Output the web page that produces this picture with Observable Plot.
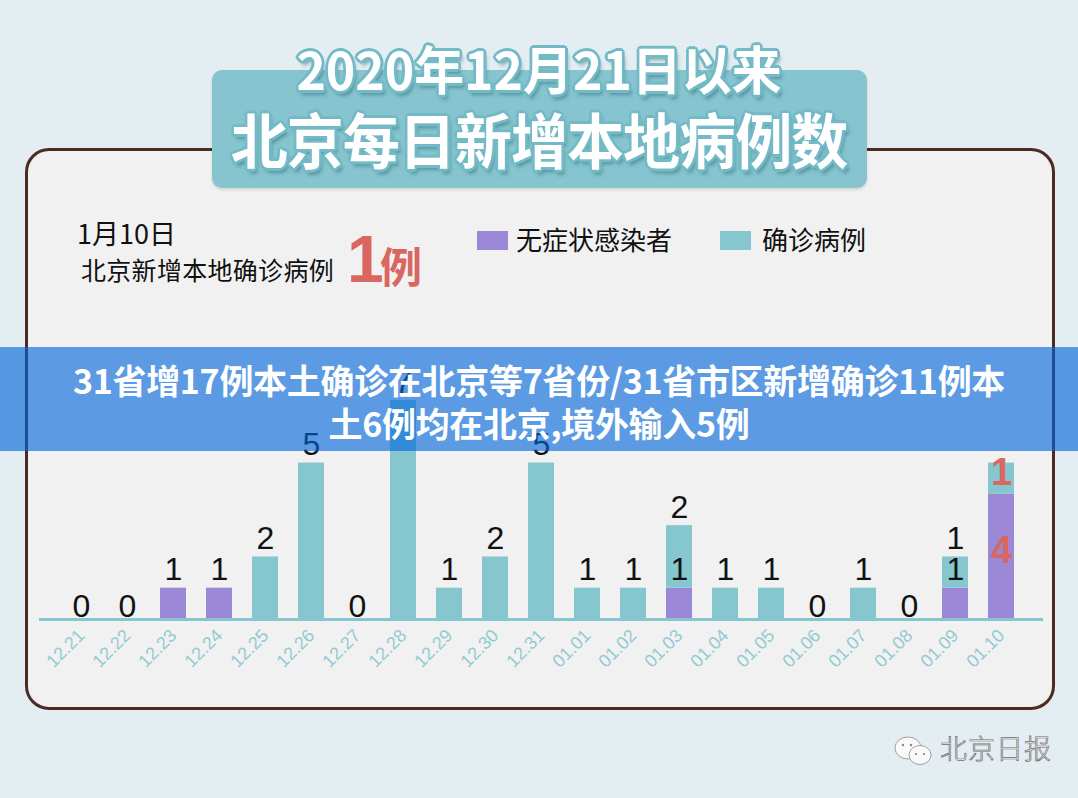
<!DOCTYPE html>
<html><head><meta charset="utf-8">
<script src="https://cdn.jsdelivr.net/npm/d3@7"></script>
<script src="https://cdn.jsdelivr.net/npm/@observablehq/plot@0.6"></script>
<style>
html,body{margin:0;padding:0;}
body{width:1078px;height:798px;background:#e3edf2;position:relative;overflow:hidden;font-family:"Noto Sans CJK SC","Noto Sans",sans-serif;}
.abs{position:absolute;}
#card{left:25px;top:148px;width:1030px;height:562px;box-sizing:border-box;border:3px solid #4b2b22;border-radius:24px;background:#f1f1f1;}
#titlebox{left:212px;top:70px;width:655px;height:118px;background:#86c5cf;border-radius:10px;box-shadow:0 2px 3px rgba(0,0,0,0.12);}
.title{left:0;width:1078px;text-align:center;color:#fff;font-weight:700;white-space:nowrap;line-height:1;
  text-shadow:3px 0 #72bac5,-3px 0 #72bac5,0 3px #72bac5,0 -3px #72bac5,2px 2px #72bac5,-2px 2px #72bac5,2px -2px #72bac5,-2px -2px #72bac5,3px 5px 4px rgba(50,110,120,0.55);}
#t1{top:42px;font-size:52px;transform:scaleX(0.96);}
#t2{top:108px;font-size:60px;transform:scaleX(0.95);letter-spacing:-1px;}
#date{left:77px;top:219px;font-size:27px;color:#111;line-height:1;}
#sub{left:81px;top:257px;font-size:25px;color:#111;line-height:1;letter-spacing:0.3px;}
#big1{left:347px;top:226px;font-size:66px;font-weight:700;color:#d9675f;line-height:1;font-family:"Liberation Sans",Arial,sans-serif;}
#bigli{left:380px;top:244px;font-size:42px;font-weight:700;color:#d9675f;line-height:1;}
.sw{width:31px;height:19px;}
.lg{font-size:26px;color:#111;line-height:1;}
#chart{left:0;top:300px;}
#banner{left:0;top:347px;width:1078px;height:104px;background:rgba(0,102,218,0.62);}
.bt{left:0;width:1078px;text-align:center;color:#fff;font-weight:700;font-size:34px;line-height:1;white-space:nowrap;letter-spacing:-0.3px;}
#wm{left:940px;top:734px;font-size:27px;color:#fafafa;line-height:1;font-weight:300;-webkit-text-stroke:0.7px #6d6d6d;letter-spacing:1px;}
</style></head>
<body>
<div id="card" class="abs"></div>
<div id="titlebox" class="abs"></div>
<div id="t1" class="abs title">2020年12月21日以来</div>
<div id="t2" class="abs title">北京每日新增本地病例数</div>
<div id="date" class="abs">1月10日</div>
<div id="sub" class="abs">北京新增本地确诊病例</div>
<div id="big1" class="abs">1</div>
<div id="bigli" class="abs">例</div>
<div class="abs sw" style="left:477px;top:231px;background:#9a87d6"></div>
<div class="abs lg" style="left:516px;top:226px">无症状感染者</div>
<div class="abs sw" style="left:720px;top:231px;background:#86c6cf"></div>
<div class="abs lg" style="left:762px;top:226px">确诊病例</div>
<div id="chart" class="abs"></div>
<div id="banner" class="abs"></div>
<div class="abs bt" style="top:363px">31省增17例本土确诊在北京等7省份/31省市区新增确诊11例本</div>
<div class="abs bt" style="top:406px">土6例均在北京,境外输入5例</div>
<svg class="abs" style="left:893px;top:735px" width="44" height="34" viewBox="0 0 44 34">
  <ellipse cx="15" cy="13" rx="13" ry="11" fill="#fafafa" stroke="#8a8a8a" stroke-width="0.8"/>
  <ellipse cx="27" cy="20" rx="11" ry="9.5" fill="#fafafa" stroke="#8a8a8a" stroke-width="0.8"/>
  <circle cx="10" cy="10" r="1.2" fill="#888"/><circle cx="18" cy="10" r="1.2" fill="#888"/>
  <circle cx="23" cy="19" r="1.1" fill="#888"/><circle cx="31" cy="19" r="1.1" fill="#888"/>
</svg>
<div id="wm" class="abs">北京日报</div>
<script>
const days = ["12.21","12.22","12.23","12.24","12.25","12.26","12.27","12.28","12.29","12.30","12.31",
              "01.01","01.02","01.03","01.04","01.05","01.06","01.07","01.08","01.09","01.10"];
const asymptomatic = [0,0,1,1,0,0,0,0,0,0,0,0,0,1,0,0,0,0,0,1,4];
const confirmed    = [0,0,0,0,2,5,0,7,1,2,5,1,1,2,1,1,0,1,0,1,1];
const seriesNames = ["无症状感染者","确诊病例"];
const seriesColors = ["#9a87d6","#86c6cf"];

const rows = days.flatMap((d,i)=>[
  {day:d, series:seriesNames[0], value:asymptomatic[i]},
  {day:d, series:seriesNames[1], value:confirmed[i]}
]);
const last = days.length - 1;
const idx = days.map((d,i)=>i);
const topLabels = idx.filter(i=>i!==last && confirmed[i]>0).map(i=>({day:days[i], y:asymptomatic[i]+confirmed[i], t:String(confirmed[i])}));
const asymLabels = idx.filter(i=>i!==last && asymptomatic[i]>0).map(i=>({day:days[i], y:asymptomatic[i], t:String(asymptomatic[i])}));
const zeroLabels = idx.filter(i=>i!==last && asymptomatic[i]+confirmed[i]===0).map(i=>({day:days[i], y:0, t:"0"}));
const todayLabels = [
  {day:days[last], y:asymptomatic[last]/2, t:String(asymptomatic[last])},
  {day:days[last], y:asymptomatic[last]+confirmed[last]/2, t:String(confirmed[last])}
];

const chart = Plot.plot({
  width:1078, height:400,
  marginTop:100, marginBottom:81, marginLeft:39, marginRight:35,
  style:{background:"transparent", fontFamily:"'Liberation Sans', Arial, sans-serif", overflow:"visible"},
  x:{domain:days, paddingInner:0.44, paddingOuter:0.5, axis:null},
  y:{domain:[0,7], axis:null},
  color:{domain:seriesNames, range:seriesColors},
  marks:[
    Plot.barY(rows, {x:"day", y:"value", fill:"series"}),
    Plot.ruleY([0], {stroke:"#86c6cf", strokeWidth:3}),
    Plot.text(topLabels, {x:"day", y:"y", text:"t", lineAnchor:"bottom", dy:-8, fontSize:32, fill:"#111"}),
    Plot.text(asymLabels, {x:"day", y:"y", text:"t", lineAnchor:"bottom", dy:-8, fontSize:32, fill:"#111"}),
    Plot.text(zeroLabels, {x:"day", y:"y", text:"t", lineAnchor:"bottom", dy:-3, fontSize:32, fill:"#111"}),
    Plot.text(todayLabels, {x:"day", y:"y", text:"t", lineAnchor:"middle", dy:-6, fontSize:38, fontWeight:"bold", fill:"#d9675f"}),
    Plot.axisX({tickRotate:-45, tickSize:0, tickPadding:13, fontSize:18, fill:"#92cbd3", label:null})
  ]
});
document.getElementById("chart").appendChild(chart);
</script>
</body></html>
